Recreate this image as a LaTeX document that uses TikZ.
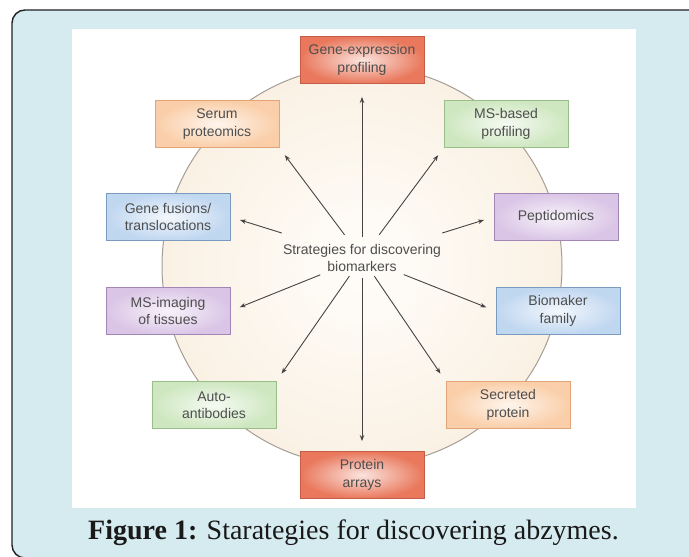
\documentclass[tikz,border=0pt]{standalone}
\usepackage{fontspec}
\setmainfont{Liberation Serif}
\setsansfont{Liberation Sans}
\usetikzlibrary{arrows.meta}
\definecolor{pagebg}{RGB}{214,235,240}
\definecolor{framedk}{RGB}{35,35,35}
\definecolor{ringin}{RGB}{255,253,250}
\definecolor{ringout}{RGB}{250,241,228}
\definecolor{ringline}{RGB}{165,158,148}
\definecolor{txtgray}{RGB}{78,78,78}
\definecolor{arrgray}{RGB}{68,68,68}
\definecolor{redL}{RGB}{233,120,92}    \definecolor{redD}{RGB}{196,92,72}
\definecolor{peachL}{RGB}{250,206,168}  \definecolor{peachD}{RGB}{226,165,122}
\definecolor{greenL}{RGB}{206,231,192}  \definecolor{greenD}{RGB}{152,190,138}
\definecolor{lilacL}{RGB}{218,197,230}  \definecolor{lilacD}{RGB}{162,134,182}
\definecolor{blueL}{RGB}{192,215,240}   \definecolor{blueD}{RGB}{122,154,192}
\tikzset{
  bx/.style={draw=#1D, line width=0.9pt, inner color=#1L!20, outer color=#1L,
             minimum width=124pt, minimum height=47pt, align=center,
             font=\sffamily\fontsize{14}{17.5}\selectfont, text=txtgray},
  hubtxt/.style={align=center, font=\sffamily\fontsize{14}{17.5}\selectfont, text=txtgray},
  arr/.style={-{Stealth[length=6pt, width=4.5pt]}, draw=arrgray, line width=0.9pt},
}

\begin{document}
\begin{tikzpicture}[x=1pt, y=-1pt]
  \useasboundingbox (0,0) rectangle (689,557);
  \fill[white] (0,0) rectangle (689,557);
  \draw[framedk, line width=1.4pt, fill=pagebg, rounded corners=13pt] (12,10) rectangle (705,558);
  \fill[white] (72,29) rectangle (636,508);

  % ring behind the boxes
  \shade[inner color=ringin, outer color=ringout] (362,266) circle[radius=200pt];
  \draw[ringline, line width=1pt] (362,266) circle[radius=200pt];

  \node[bx=red]   (gene)    at (362,60)  {Gene-expression\\profiling};
  \node[bx=peach] (serum)   at (217,124) {Serum\\proteomics};
  \node[bx=green] (msbased) at (506,124) {MS-based\\profiling};
  \node[bx=blue]  (fusions) at (168,217) {Gene fusions/\\translocations};
  \node[bx=lilac] (peptid)  at (556,217) {Peptidomics};
  \node[bx=lilac] (msimg)   at (168,311) {MS-imaging\\of tissues};
  \node[bx=blue]  (biomak)  at (558,311) {Biomaker\\family};
  \node[bx=green] (auto)    at (214,405) {Auto-\\antibodies};
  \node[bx=peach] (secret)  at (508,405) {Secreted\\protein};
  \node[bx=red]   (protein) at (362,475) {Protein\\arrays};

  \node[hubtxt] (hub) at (362,258) {Strategies for discovering\\biomarkers};

  \foreach \tgt/\gap/\tipgap in {gene.south/21/13, serum.south east/29/9,
      msbased.south west/29/9, fusions.east/84/10, peptid.west/84/10,
      msimg.east/45/10, biomak.west/45/10, auto.north east/22/9,
      secret.north west/22/9, protein.north/20/10}
    \draw[arr, shorten <=\gap pt, shorten >=\tipgap pt] (hub.center) -- (\tgt);

  \node[font=\fontsize{28}{32}\selectfont, text=black!90] (cap) at (353.5,533)
    {\textbf{Figure 1:} Starategies for discovering abzymes.};
\end{tikzpicture}
\end{document}
